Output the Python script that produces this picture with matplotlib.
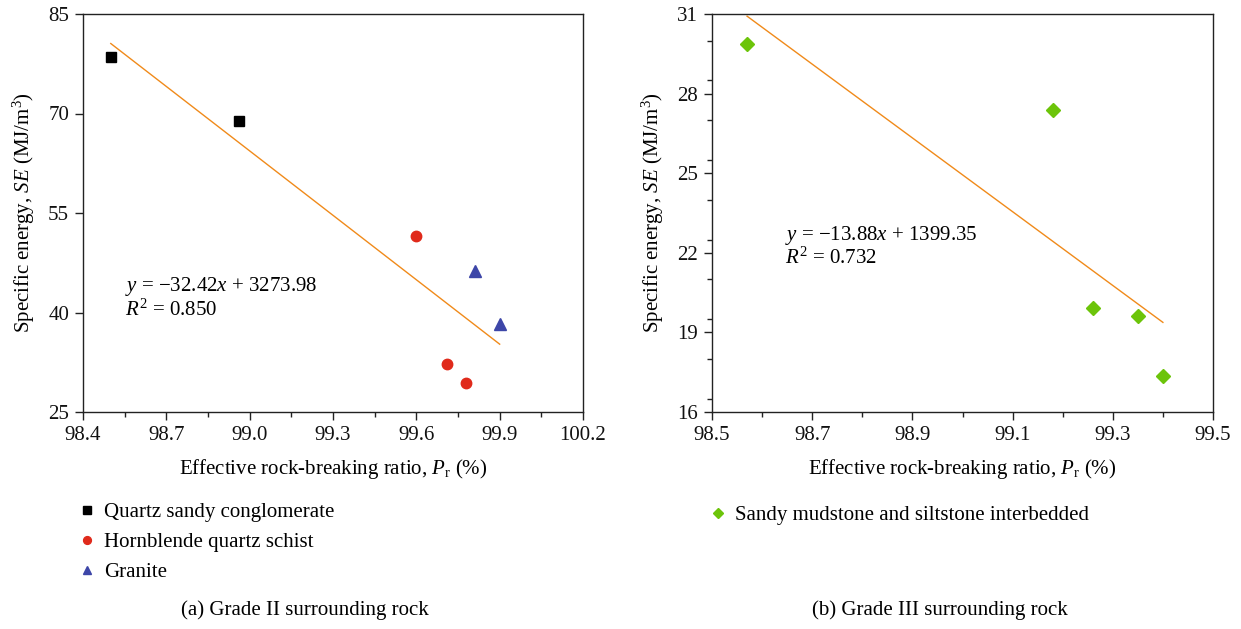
import numpy as np
import matplotlib
matplotlib.use("Agg")
import matplotlib.pyplot as plt
from matplotlib.ticker import MultipleLocator, FixedLocator, FormatStrFormatter

plt.rcParams['font.family'] = ['Liberation Serif', 'DejaVu Serif']
plt.rcParams['mathtext.fontset'] = 'custom'
plt.rcParams['mathtext.rm'] = 'Liberation Serif'
plt.rcParams['mathtext.it'] = 'Liberation Serif:italic'
plt.rcParams['mathtext.bf'] = 'Liberation Serif:bold'

# ---- data (a) Grade II ----
qsc_x = [98.50, 98.96]
qsc_y = [78.5, 68.9]
hqs_x = [99.60, 99.71, 99.78]
hqs_y = [51.6, 32.3, 29.3]
gra_x = [99.81, 99.90]
gra_y = [46.2, 38.2]

# ---- data (b) Grade III ----
sms_x = [98.57, 99.18, 99.26, 99.35, 99.40]
sms_y = [29.87, 27.39, 19.92, 19.61, 17.34]

labels_a = ["Quartz sandy conglomerate", "Hornblende quartz schist", "Granite"]
label_b = "Sandy mudstone and siltstone interbedded"
eq_a = "$y$ = \u221232.42$x$ + 3273.98\n$R^2$ = 0.850"
eq_b = "$y$ = \u221213.88$x$ + 1399.35\n$R^2$ = 0.732"

c_black = "#000000"
c_red = "#e02a1b"
c_blue = "#3d46a8"
c_green = "#6cc40a"
c_line = "#f08a1a"

W, H = 1241, 629
fig = plt.figure(figsize=(W / 100, H / 100), dpi=100)

axA = fig.add_axes([83 / W, 1 - 412 / H, 500 / W, 398 / H])
axB = fig.add_axes([712 / W, 1 - 412 / H, 501 / W, 398 / H])

FS = 15

def style(ax):
    for s in ax.spines.values():
        s.set_linewidth(1.0)
        s.set_color("#222222")
    ax.tick_params(which='both', direction='out', labelsize=FS, colors="#222222",
                   width=1.0, top=False, right=False)
    ax.tick_params(which='major', length=6, pad=4)
    ax.tick_params(which='minor', length=3.5)
    for t in ax.get_xticklabels() + ax.get_yticklabels():
        t.set_color("#111111")

# ---- panel (a) ----
all_x = np.array(qsc_x + hqs_x + gra_x)
all_y = np.array(qsc_y + hqs_y + gra_y)
k, b = np.polyfit(all_x, all_y, 1)
xs = np.array([all_x.min(), all_x.max()])
axA.plot(xs, k * xs + b, color=c_line, lw=1.0, zorder=2)
hA1, = axA.plot(qsc_x, qsc_y, 's', color=c_black, ms=7, ls='none', label=labels_a[0], zorder=3)
hA2, = axA.plot(hqs_x, hqs_y, 'o', color=c_red, ms=7.5, ls='none', label=labels_a[1], zorder=3)
hA3, = axA.plot(gra_x, gra_y, '^', color=c_blue, ms=8, ls='none', label=labels_a[2], zorder=3)
axA.set_xlim(98.4, 100.2)
axA.set_ylim(25, 85)
axA.xaxis.set_major_locator(FixedLocator([98.4, 98.7, 99.0, 99.3, 99.6, 99.9, 100.2]))
axA.xaxis.set_minor_locator(MultipleLocator(0.15))
axA.xaxis.set_major_formatter(FormatStrFormatter('%.1f'))
axA.yaxis.set_major_locator(FixedLocator([25, 40, 55, 70, 85]))
style(axA)
axA.set_xlabel("Effective rock-breaking ratio, $P_{\\mathrm{r}}$ (%)", fontsize=FS, labelpad=9)
axA.set_ylabel("Specific energy, $SE$ (MJ/m$^3$)", fontsize=FS, labelpad=8)
axA.text(98.55, 45.6, eq_a, fontsize=FS, va='top', ha='left', linespacing=1.05)

# ---- panel (b) ----
sx = np.array(sms_x)
sy = np.array(sms_y)
k2, b2 = np.polyfit(sx, sy, 1)
xs2 = np.array([sx.min(), sx.max()])
axB.plot(xs2, k2 * xs2 + b2, color=c_line, lw=1.0, zorder=2)
hB1, = axB.plot(sms_x, sms_y, 'D', color=c_green, ms=7, ls='none', label=label_b, zorder=3)
axB.set_xlim(98.5, 99.5)
axB.set_ylim(16, 31)
axB.xaxis.set_major_locator(FixedLocator([98.5, 98.7, 98.9, 99.1, 99.3, 99.5]))
axB.xaxis.set_minor_locator(MultipleLocator(0.1))
axB.xaxis.set_major_formatter(FormatStrFormatter('%.1f'))
axB.yaxis.set_major_locator(FixedLocator([16, 19, 22, 25, 28, 31]))
axB.yaxis.set_minor_locator(MultipleLocator(1.5))
style(axB)
axB.set_xlabel("Effective rock-breaking ratio, $P_{\\mathrm{r}}$ (%)", fontsize=FS, labelpad=9)
axB.set_ylabel("Specific energy, $SE$ (MJ/m$^3$)", fontsize=FS, labelpad=8)
axB.text(98.645, 23.1, eq_b, fontsize=FS, va='top', ha='left', linespacing=1.05)

# ---- legends ----
legA = fig.legend(handles=[hA1, hA2, hA3], loc='upper left',
                  bbox_to_anchor=(72 / W, 1 - 494 / H), frameon=False,
                  fontsize=FS, markerscale=0.75, handlelength=0.6, handletextpad=0.55,
                  labelspacing=0.5, borderaxespad=0)
legB = fig.legend(handles=[hB1], loc='upper left',
                  bbox_to_anchor=(703 / W, 1 - 497 / H), frameon=False,
                  fontsize=FS, markerscale=0.75, handlelength=0.6, handletextpad=0.55,
                  borderaxespad=0)

# ---- captions ----
fig.text(305 / W, 1 - 610 / H, "(a) Grade II surrounding rock", fontsize=FS,
         ha='center', va='center')
fig.text(940 / W, 1 - 610 / H, "(b) Grade III surrounding rock", fontsize=FS,
         ha='center', va='center')

fig.savefig("out.png", dpi=100)
